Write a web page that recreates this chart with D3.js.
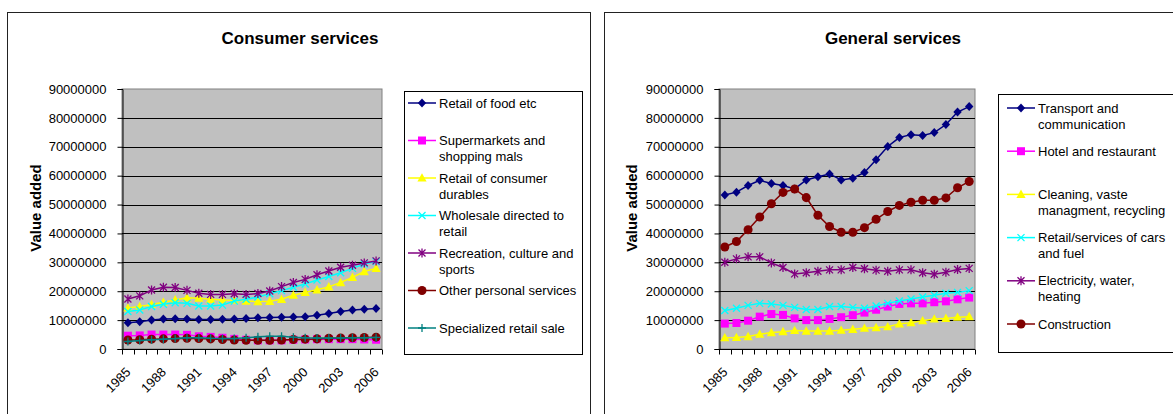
<!DOCTYPE html>
<html>
<head>
<meta charset="utf-8">
<script src="https://cdn.jsdelivr.net/npm/d3@7"></script>
<style>
  html, body { margin: 0; padding: 0; background: #fff; }
  svg { display: block; }
  text { font-family: "Liberation Sans", Arial, sans-serif; fill: #000; }
</style>
</head>
<body>
<svg id="chart" width="1173" height="414"></svg>
<script>
// ---------------- DATA ----------------
const years = [1985, 1986, 1987, 1988, 1989, 1990, 1991, 1992, 1993, 1994, 1995,
               1996, 1997, 1998, 1999, 2000, 2001, 2002, 2003, 2004, 2005, 2006];
const yearTickLabels = [1985, 1988, 1991, 1994, 1997, 2000, 2003, 2006];
const valueTicks = [0, 10000000, 20000000, 30000000, 40000000, 50000000, 60000000, 70000000, 80000000, 90000000];

// Consumer services
const retailFood = [9100000, 9400000, 10000000, 10400000, 10500000, 10400000, 10200000, 10200000, 10300000, 10400000, 10600000,
                    10800000, 10900000, 11000000, 11100000, 11200000, 11700000, 12300000, 13000000, 13500000, 13800000, 14000000];
const supermarkets = [4600000, 4700000, 5000000, 5000000, 5000000, 4900000, 4400000, 4200000, 3900000, 3500000, 3200000,
                      3000000, 3000000, 3000000, 3200000, 3300000, 3400000, 3400000, 3400000, 3400000, 3300000, 3200000];
const consumerDurables = [14200000, 14700000, 15400000, 16200000, 17000000, 17700000, 17600000, 17200000, 17000000, 16900000, 16600000,
                          16400000, 16500000, 17200000, 18600000, 19600000, 20500000, 21500000, 23000000, 24800000, 26800000, 27900000];
const wholesaleRetail = [13000000, 13500000, 14700000, 15500000, 16000000, 15800000, 14900000, 14900000, 15200000, 16600000, 17200000,
                         18000000, 19100000, 20200000, 21400000, 22500000, 23900000, 25100000, 26400000, 27900000, 29400000, 30300000];
const recreation = [17300000, 18400000, 20400000, 21400000, 21300000, 20300000, 19300000, 18900000, 18900000, 19100000, 18900000,
                    19200000, 20100000, 21600000, 23000000, 24100000, 25700000, 27000000, 28300000, 29000000, 29800000, 30500000];
const otherPersonal = [3100000, 3200000, 3400000, 3500000, 3600000, 3700000, 3600000, 3500000, 3300000, 3100000, 3000000,
                       3000000, 3000000, 3100000, 3300000, 3400000, 3500000, 3700000, 3800000, 3900000, 4000000, 4100000];
const specializedRetail = [2600000, 2900000, 3200000, 3400000, 3600000, 3900000, 3900000, 3700000, 3600000, 3600000, 3900000,
                           4200000, 4400000, 4400000, 4100000, 3900000, 3800000, 3800000, 3800000, 3900000, 3900000, 4000000];

// General services
const transport = [53300000, 54300000, 56600000, 58400000, 57300000, 56600000, 55400000, 58500000, 59600000, 60600000, 58500000,
                   59100000, 61100000, 65500000, 70100000, 73200000, 74200000, 73900000, 74900000, 77700000, 82000000, 83900000];
const hotel = [8800000, 9000000, 9800000, 11200000, 12100000, 11800000, 10600000, 10000000, 10000000, 10400000, 11000000,
               11700000, 12600000, 13600000, 14700000, 15600000, 15800000, 15800000, 16200000, 16500000, 17200000, 17800000];
const cleaning = [3900000, 4000000, 4300000, 5100000, 5700000, 6000000, 6400000, 6200000, 6200000, 6200000, 6500000,
                  6800000, 7200000, 7400000, 7700000, 8700000, 9100000, 9800000, 10400000, 10600000, 11000000, 11200000];
const carsFuel = [13300000, 14100000, 15100000, 15800000, 15600000, 15100000, 14400000, 13700000, 13700000, 14700000, 14700000,
                  14400000, 14100000, 14900000, 15800000, 16600000, 17300000, 18000000, 18600000, 19300000, 19600000, 20200000];
const electricity = [30000000, 31200000, 31900000, 31900000, 29800000, 28200000, 26000000, 26400000, 26900000, 27400000, 27400000,
                     28200000, 27800000, 27300000, 26900000, 27400000, 27400000, 26400000, 25900000, 26600000, 27500000, 27900000];
const construction = [35300000, 37200000, 41300000, 45700000, 50300000, 54200000, 55400000, 52400000, 46300000, 42400000, 40400000,
                      40400000, 42000000, 44900000, 47600000, 49700000, 50800000, 51500000, 51500000, 52300000, 55800000, 58000000];

const consumerNames = [["Retail of food  etc"], ["Supermarkets and", "shopping mals"], ["Retail of consumer", "durables"],
                       ["Wholesale directed to", "retail"], ["Recreation, culture and", "sports"],
                       ["Other personal services"], ["Specialized retail sale"]];
const generalNames = [["Transport and", "communication"], ["Hotel and restaurant"], ["Cleaning, vaste", "managment, recycling"],
                      ["Retail/services of cars", "and fuel"], ["Electricity, water,", "heating"], ["Construction"]];

// ---------------- DRAWING ----------------
const svg = d3.select("#chart");
svg.append("rect").attr("width", 1173).attr("height", 414).attr("fill", "#fff");

function markerPath(type) {
  if (type === "x") return "M-3.5,-3.5L3.5,3.5M-3.5,3.5L3.5,-3.5";
  if (type === "asterisk") return "M-3.5,-3.5L3.5,3.5M-3.5,3.5L3.5,-3.5M0,-4.5L0,4.5";
  if (type === "plus") return "M-4,0L4,0M0,-4L0,4";
  if (type === "diamond") return "M0,-4.5L4.2,0L0,4.5L-4.2,0Z";
  if (type === "triangle") return "M0,-4.8L4.6,3.6L-4.6,3.6Z";
  if (type === "square") return "M-4,-4H4V4H-4Z";
  return d3.symbol().type(d3.symbolCircle).size(64)();
}
const filledTypes = new Set(["diamond", "square", "triangle", "circle"]);

function drawMarker(g, type, color) {
  const p = g.append("path").attr("d", markerPath(type));
  if (filledTypes.has(type)) p.attr("fill", color).attr("stroke", "none");
  else p.attr("fill", "none").attr("stroke", color).attr("stroke-width", 1.3);
}

function drawChart(o) {
  const g = svg.append("g");
  // outer chart box
  g.append("rect").attr("x", o.box[0] + 0.5).attr("y", o.box[1] + 0.5)
    .attr("width", o.box[2]).attr("height", 500)
    .attr("fill", "#fff").attr("stroke", "#222").attr("stroke-width", 1);

  g.append("text").attr("x", o.titleX).attr("y", 44).attr("text-anchor", "middle")
    .attr("font-size", 17).attr("font-weight", "bold").text(o.title);

  const x = d3.scaleBand().domain(years).range([o.plot[0], o.plot[0] + o.plot[2]]).paddingInner(0).paddingOuter(0);
  const y = d3.scaleLinear().domain([0, 90000000]).range([o.plot[1] + o.plot[3], o.plot[1]]);
  const cx = d => x(d) + x.bandwidth() / 2;

  // plot background
  g.append("rect").attr("x", o.plot[0]).attr("y", o.plot[1]).attr("width", o.plot[2]).attr("height", o.plot[3])
    .attr("fill", "#c0c0c0").attr("stroke", "#808080").attr("stroke-width", 1);

  // gridlines
  g.append("g").selectAll("line").data(valueTicks.filter(v => v > 0 && v < 90000000)).join("line")
    .attr("x1", o.plot[0]).attr("x2", o.plot[0] + o.plot[2])
    .attr("y1", d => Math.round(y(d)) + 0.5).attr("y2", d => Math.round(y(d)) + 0.5)
    .attr("stroke", "#000").attr("stroke-width", 1);

  // y axis
  const ya = g.append("g").attr("transform", `translate(${o.plot[0] + 0.5},0)`)
    .call(d3.axisLeft(y).tickValues(valueTicks).tickSize(5).tickPadding(11).tickFormat(d3.format("d")));
  ya.select(".domain").attr("stroke", "#000");
  ya.selectAll(".tick line").attr("stroke", "#000");
  ya.selectAll("text").attr("font-size", 13).attr("font-family", "Liberation Sans, Arial, sans-serif").attr("fill", "#000");

  // x axis
  const base = o.plot[1] + o.plot[3] + 0.5;
  g.append("line").attr("x1", o.plot[0]).attr("x2", o.plot[0] + o.plot[2]).attr("y1", base).attr("y2", base)
    .attr("stroke", "#000");
  const bounds = years.map(d => x(d)).concat([x(years[years.length - 1]) + x.bandwidth()]);
  g.append("g").selectAll("line").data(bounds).join("line")
    .attr("x1", d => Math.round(d) + 0.5).attr("x2", d => Math.round(d) + 0.5)
    .attr("y1", base).attr("y2", base + 5).attr("stroke", "#000");
  g.append("g").selectAll("text").data(yearTickLabels).join("text")
    .attr("transform", d => `translate(${cx(d) + 3.5},${base + 23.5}) rotate(-45)`)
    .attr("text-anchor", "end").attr("font-size", 13).text(d => d);

  // y title
  g.append("text").attr("transform", `translate(${o.yTitleX},${o.plot[1] + o.plot[3] / 2 - 11}) rotate(-90)`)
    .attr("text-anchor", "middle").attr("dy", "0.35em").attr("font-size", 15).attr("font-weight", "bold")
    .text("Value added");

  // series
  const line = d3.line().x((d, i) => cx(years[i])).y(d => y(d));
  o.series.forEach(s => {
    g.append("path").attr("d", line(s.values)).attr("fill", "none")
      .attr("stroke", s.color).attr("stroke-width", 1.5);
    s.values.forEach((v, i) => {
      const mg = g.append("g").attr("transform", `translate(${cx(years[i])},${y(v)})`);
      drawMarker(mg, s.marker, s.color);
    });
  });

  // legend
  const L = o.legend;
  g.append("rect").attr("x", L.x + 0.5).attr("y", L.y + 0.5).attr("width", L.w).attr("height", L.h)
    .attr("fill", "#fff").attr("stroke", "#000").attr("stroke-width", 1);
  o.series.forEach((s, i) => {
    const ly = L.firstY + i * L.spacing;
    g.append("line").attr("x1", L.lineX).attr("x2", L.lineX + 28).attr("y1", ly).attr("y2", ly)
      .attr("stroke", s.color).attr("stroke-width", 1.5);
    const mg = g.append("g").attr("transform", `translate(${L.lineX + 14},${ly})`);
    drawMarker(mg, s.marker, s.color);
    s.name.forEach((t, j) => {
      g.append("text").attr("x", L.lineX + 31).attr("y", ly + j * 16).attr("dy", "0.35em")
        .attr("font-size", 13).text(t);
    });
  });
}

drawChart({
  box: [7, 12, 583],
  title: "Consumer services", titleX: 300,
  plot: [122, 89, 260, 260],
  yTitleX: 36,
  legend: { x: 404, y: 91, w: 178, h: 263, firstY: 103, spacing: 37.5, lineX: 408 },
  series: [
    { name: consumerNames[0], values: retailFood, color: "#000080", marker: "diamond" },
    { name: consumerNames[1], values: supermarkets, color: "#ff00ff", marker: "square" },
    { name: consumerNames[2], values: consumerDurables, color: "#ffff00", marker: "triangle" },
    { name: consumerNames[3], values: wholesaleRetail, color: "#00ffff", marker: "x" },
    { name: consumerNames[4], values: recreation, color: "#800080", marker: "asterisk" },
    { name: consumerNames[5], values: otherPersonal, color: "#800000", marker: "circle" },
    { name: consumerNames[6], values: specializedRetail, color: "#008080", marker: "plus" }
  ]
});

drawChart({
  box: [604, 12, 600],
  title: "General services", titleX: 893,
  plot: [719, 89, 256, 260],
  yTitleX: 632,
  legend: { x: 998, y: 94, w: 200, h: 258, firstY: 108, spacing: 43.2, lineX: 1007 },
  series: [
    { name: generalNames[0], values: transport, color: "#000080", marker: "diamond" },
    { name: generalNames[1], values: hotel, color: "#ff00ff", marker: "square" },
    { name: generalNames[2], values: cleaning, color: "#ffff00", marker: "triangle" },
    { name: generalNames[3], values: carsFuel, color: "#00ffff", marker: "x" },
    { name: generalNames[4], values: electricity, color: "#800080", marker: "asterisk" },
    { name: generalNames[5], values: construction, color: "#800000", marker: "circle" }
  ]
});
</script>
</body>
</html>
